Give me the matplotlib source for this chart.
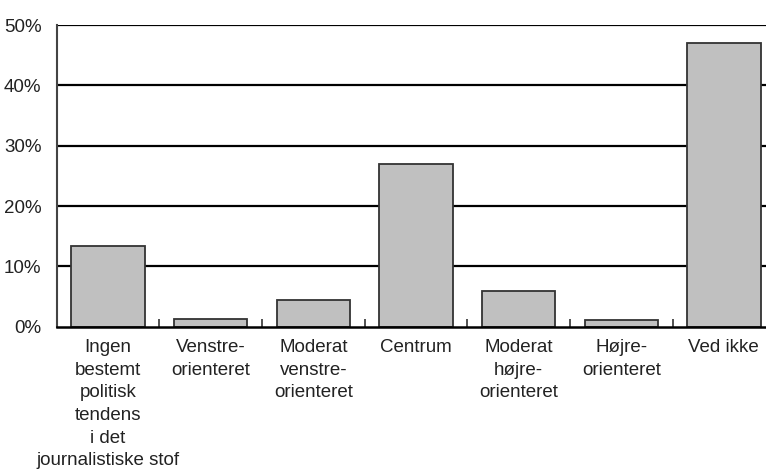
import matplotlib.pyplot as plt
import numpy as np
from matplotlib.ticker import FixedLocator

plt.rcParams['font.family'] = ['Liberation Sans', 'DejaVu Sans']

categories = [
    'Ingen\nbestemt\npolitisk\ntendens\ni det',
    'Venstre-\norienteret',
    'Moderat\nvenstre-\norienteret',
    'Centrum',
    'Moderat\nhøjre-\norienteret',
    'Højre-\norienteret',
    'Ved ikke',
]
first_label_tail = 'journalistiske stof'  # last line of the first category label
values = [13.4, 1.3, 4.45, 26.9, 6.0, 1.15, 47.1]
y_ticks = [0, 10, 20, 30, 40, 50]
y_labels = ['0%', '10%', '20%', '30%', '40%', '50%']

fs = 13.5

fig = plt.figure(figsize=(7.66, 4.75), dpi=100)
ax = fig.add_axes([0.074, 0.3122, 0.938, 0.635])

x = np.arange(len(categories))
ax.bar(x, values, width=0.715, color='#c0c0c0', edgecolor='#333333', linewidth=1.3, zorder=3)

ax.set_xlim(-0.5, len(categories) - 0.5)
ax.set_ylim(0, 50)
ax.set_yticks(y_ticks)
ax.set_yticklabels(y_labels, fontsize=fs)
for y in y_ticks[1:]:
    ax.axhline(y, color='black', linewidth=1.6, zorder=1)

ax.set_xticks(x)
ax.set_xticklabels(categories, fontsize=fs, linespacing=1.44)
ax.xaxis.set_minor_locator(FixedLocator(x[:-1] + 0.5))
ax.tick_params(axis='x', which='major', length=0, pad=8.7, colors='#222222')
ax.tick_params(axis='x', which='minor', direction='in', length=6, width=1.2, color='#333333')
ax.tick_params(axis='y', length=0, pad=11, colors='#222222')

# sixth line of the first label, under "i det"
ax.annotate(first_label_tail, xy=(x[0], 0), xycoords=ax.get_xaxis_transform(),
            xytext=(0, -99.5), textcoords='offset points', ha='center', va='baseline',
            fontsize=fs, color='#222222', annotation_clip=False)

for s in ['top', 'right']:
    ax.spines[s].set_visible(False)
ax.spines['left'].set_color('#444444')
ax.spines['left'].set_linewidth(1.5)
ax.spines['bottom'].set_color('black')
ax.spines['bottom'].set_linewidth(1.8)
ax.spines['bottom'].set_zorder(4)

fig.savefig('out.png', dpi=100)
